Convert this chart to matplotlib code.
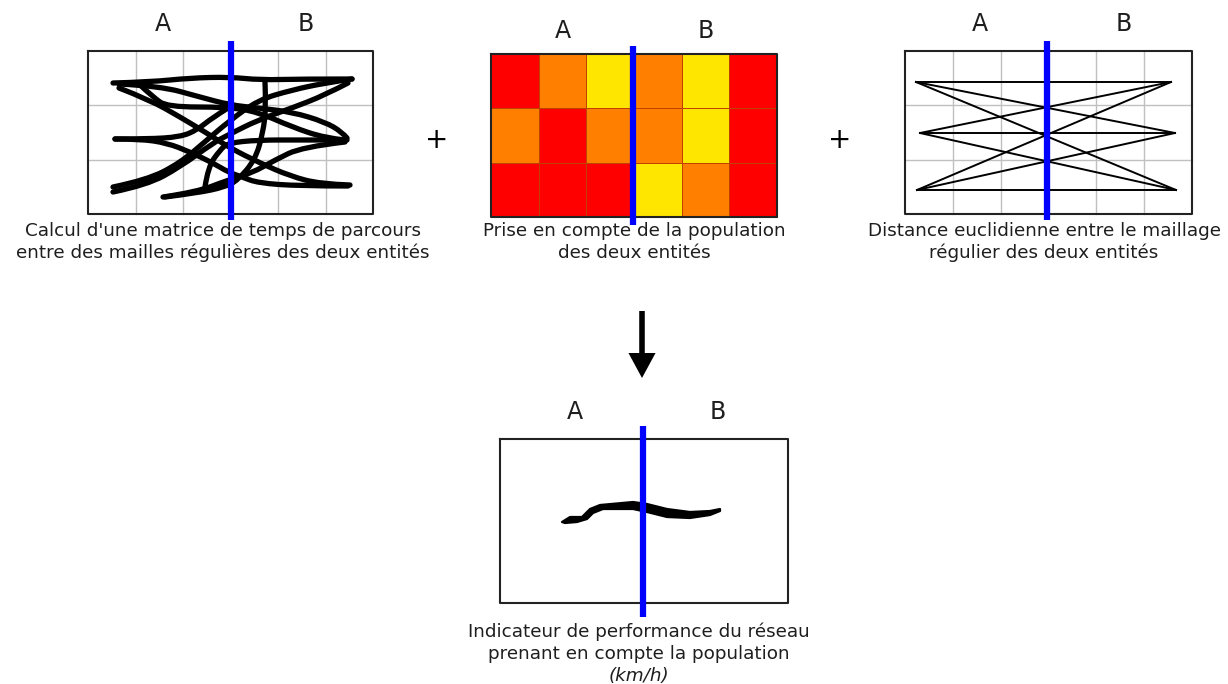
import numpy as np
import matplotlib.pyplot as plt
from matplotlib.colors import ListedColormap
from matplotlib.path import Path
from matplotlib.patches import PathPatch

# heatmap values: 0 = red, 1 = orange, 2 = yellow
pop_grid = np.array([
    [0, 1, 2, 1, 2, 0],
    [1, 0, 1, 1, 2, 0],
    [0, 0, 0, 2, 1, 0],
])
pop_colors = ['#ff0000', '#ff8000', '#ffe600']

# hand drawn travel-time paths (panel 1), pixel coords
travel_paths = [
    [(113, 83), (150, 82), (190, 78), (230, 77), (260, 80), (300, 79), (352, 79)],
    [(119, 84), (160, 86), (200, 97), (230, 105), (258, 108), (292, 112), (325, 122), (342, 132), (347, 138)],
    [(119, 88), (150, 100), (180, 117), (205, 132), (230, 148), (260, 163), (290, 176), (320, 184), (350, 185)],
    [(115, 139), (140, 139), (167, 143), (190, 152), (213, 163), (228, 172), (242, 177), (258, 183), (300, 186), (348, 186)],
    [(113, 187), (147, 180), (180, 163), (207, 140), (228, 122), (258, 100), (292, 90), (325, 83), (352, 79)],
    [(113, 192), (147, 185), (180, 167), (213, 143), (228, 135), (258, 120), (292, 108), (325, 95), (348, 83)],
    [(163, 197), (197, 192), (228, 180), (252, 173), (275, 160), (302, 147), (345, 142)],
    [(265, 82), (266, 107), (263, 133), (255, 160), (238, 180), (225, 187), (197, 193), (165, 197)],
    [(205, 187), (208, 167), (220, 150), (228, 143), (258, 140), (300, 140), (347, 140)],
    [(115, 139), (147, 139), (180, 137), (197, 130), (212, 118), (228, 108)],
    [(140, 85), (153, 97), (167, 107), (228, 107), (258, 112), (292, 127), (325, 138), (345, 140)],
]

# euclidean panel: left and right mesh centroids
eucl_left = [(916, 82), (920, 133), (917, 190)]
eucl_right = [(1171, 82), (1175, 133), (1176, 190)]

# result indicator stroke (panel 4) outline
perf_upper = [(562, 522), (570, 517), (582, 517), (590, 509), (600, 505), (633, 502),
              (647, 504), (667, 509), (690, 512), (710, 511), (720, 509)]
perf_lower = [(720, 511), (710, 515), (690, 518), (667, 517), (647, 512), (633, 509),
              (603, 509), (593, 513), (587, 519), (577, 522), (565, 523)]

captions = [
    ["Calcul d'une matrice de temps de parcours", "entre des mailles régulières des deux entités"],
    ["Prise en compte de la population", "des deux entités"],
    ["Distance euclidienne entre le maillage", "régulier des deux entités"],
    ["Indicateur de performance du réseau", "prenant en compte la population"],
]

fig = plt.figure(figsize=(12.28, 6.84), dpi=100)
ax = fig.add_axes([0, 0, 1, 1])
ax.set_xlim(0, 1228)
ax.set_ylim(684, 0)
ax.axis('off')

FS = 13.2
TXT = '#1e1e1e'
GRID = '#c0c0c0'


def frame(x0, x1, y0, y1):
    ax.plot([x0, x1, x1, x0, x0], [y0, y0, y1, y1, y0], color='#222222', lw=1.5, zorder=4)


def grid(x0, x1, y0, y1):
    for x in np.linspace(x0, x1, 7)[1:-1]:
        ax.plot([x, x], [y0, y1], color=GRID, lw=1, zorder=1)
    for y in np.linspace(y0, y1, 4)[1:-1]:
        ax.plot([x0, x1], [y, y], color=GRID, lw=1, zorder=1)


def divider(x, y0, y1):
    ax.plot([x, x], [y0, y1], color='#0000ff', lw=4.5, solid_capstyle='butt', zorder=6)


def labels(xa, xb, y):
    ax.text(xa, y, 'A', fontsize=17, ha='center', va='center', color=TXT)
    ax.text(xb, y, 'B', fontsize=17, ha='center', va='center', color=TXT)


def smooth_stroke(pts, lw):
    # quadratic bezier through the midpoints, keypoints act as controls
    pts = np.asarray(pts, float)
    verts = [pts[0]]
    codes = [Path.MOVETO]
    for i in range(1, len(pts) - 1):
        mid = (pts[i] + pts[i + 1]) / 2 if i < len(pts) - 2 else pts[i + 1]
        verts += [pts[i], mid]
        codes += [Path.CURVE3, Path.CURVE3]
    if len(pts) == 2:
        verts.append(pts[1])
        codes.append(Path.LINETO)
    ax.add_patch(PathPatch(Path(verts, codes), fill=False, edgecolor='black', lw=lw,
                           capstyle='round', joinstyle='round', zorder=3))


# panel 1
grid(88, 373, 51, 214)
for path in travel_paths:
    smooth_stroke(path, 3.8)
frame(88, 373, 51, 214)
divider(231, 41, 220)
labels(163, 306, 24)

# panel 2
ax.pcolormesh(np.linspace(491, 777, 7), np.linspace(54, 217, 4), pop_grid,
              cmap=ListedColormap(pop_colors), vmin=-0.5, vmax=2.5,
              edgecolors='#c04000', linewidth=0.4, zorder=2)
frame(491, 777, 54, 217)
divider(633, 46, 225)
labels(563, 706, 31)

# panel 3
grid(905, 1192, 51, 214)
for p in eucl_left:
    for q in eucl_right:
        ax.plot([p[0], q[0]], [p[1], q[1]], color='black', lw=1.4, zorder=3)
frame(905, 1192, 51, 214)
divider(1047, 41, 220)
labels(980, 1124, 24)

# plus signs
ax.text(437, 140, '+', fontsize=20, ha='center', va='center', color='black')
ax.text(840, 140, '+', fontsize=20, ha='center', va='center', color='black')

# arrow
ax.annotate('', xy=(642, 378), xytext=(642, 311),
            arrowprops=dict(arrowstyle='simple,head_width=1.95,head_length=1.8,tail_width=0.4',
                            color='black', lw=0, shrinkA=0, shrinkB=0))

# panel 4
frame(500, 788, 439, 603)
outline = perf_upper + perf_lower
ax.fill([p[0] for p in outline], [p[1] for p in outline], facecolor='black',
        edgecolor='black', lw=1.6, joinstyle='round', zorder=3)
divider(643, 426, 617)
labels(575, 718, 412)

# captions
cap_pos = [(223, 231), (634, 231), (1044, 231), (639, 632)]
for (cx, cy), lines in zip(cap_pos, captions):
    for i, line in enumerate(lines):
        ax.text(cx, cy + 22 * i, line, fontsize=FS, ha='center', va='center', color=TXT)
ax.text(639, 676, '(km/h)', fontsize=FS, ha='center', va='center', style='italic', color=TXT)

fig.savefig('out.png', dpi=100)
